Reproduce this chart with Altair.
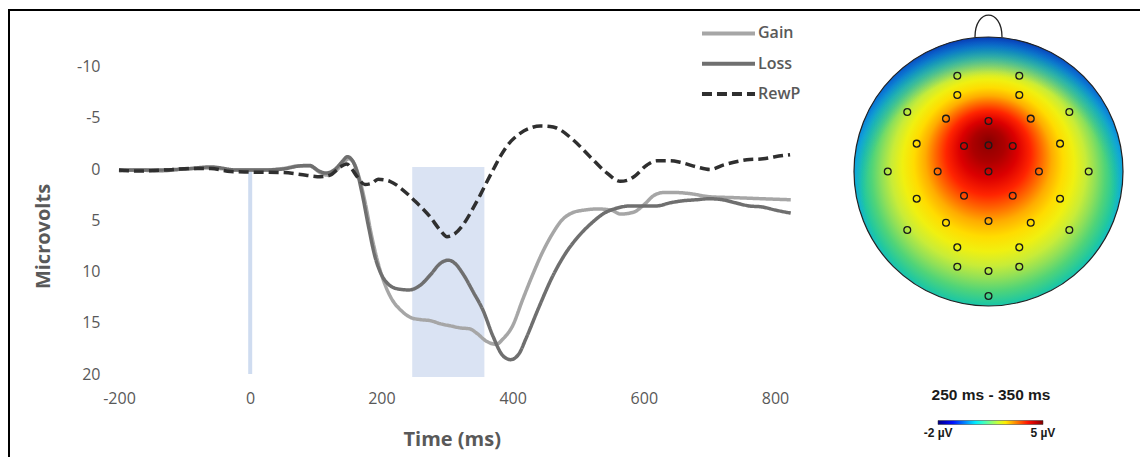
import altair as alt
import pandas as pd

# ---------------- ERP waveforms (time in ms, amplitude in microvolts) ----------------
gain_t = [-200, -170, -140, -100, -60, -20, 20, 50, 75, 90,
          108, 118, 130, 142, 150, 158, 165, 175, 185, 195,
          205, 215, 230, 245, 260, 275, 290, 305, 320, 335,
          345, 360, 375, 385, 400, 415, 430, 445, 460, 475,
          490, 510, 530, 550, 565, 585, 600, 615, 630, 650,
          670, 700, 740, 780, 824]
gain_v = [0.2, 0.1, 0.2, 0.0, -0.1, 0.1, 0.1, -0.05, -0.3, -0.3,
          0.4, 0.6, 0.2, -0.6, -1.0, -0.6, 0.6, 3.2, 6.5, 9.2,
          11.2, 12.6, 13.8, 14.5, 14.7, 14.8, 15.1, 15.3, 15.5, 15.6,
          16.0, 16.8, 17.1, 16.6, 15.3, 12.8, 10.4, 8.2, 6.4, 5.0,
          4.3, 4.0, 3.9, 4.0, 4.4, 4.2, 3.5, 2.6, 2.3, 2.3,
          2.4, 2.7, 2.8, 2.9, 3.0]

loss_t = [-200, -150, -100, -60, -20, 20, 50, 75, 90, 105,
          115, 128, 140, 148, 156, 163, 170, 180, 190, 200,
          210, 225, 242, 260, 275, 290, 302, 312, 325, 340,
          355, 370, 385, 397, 410, 420, 440, 460, 480, 500,
          520, 540, 560, 580, 600, 620, 640, 660, 680, 700,
          720, 740, 760, 780, 800, 824]
loss_v = [0.1, 0.1, 0.0, -0.2, 0.1, 0.1, 0.0, -0.3, -0.35, 0.2,
          0.4, 0.1, -0.7, -1.2, -0.8, 0.3, 2.2, 5.5, 8.5, 10.3,
          11.2, 11.7, 11.8, 11.3, 10.3, 9.2, 8.9, 9.2, 10.3, 12.0,
          13.8, 16.3, 18.2, 18.6, 18.0, 16.6, 13.5, 10.6, 8.3, 6.6,
          5.3, 4.3, 3.8, 3.6, 3.6, 3.6, 3.3, 3.1, 3.0, 2.9,
          3.0, 3.3, 3.6, 3.7, 4.0, 4.3]

rewp_t = [-200, -170, -130, -90, -60, -30, 0, 50, 85, 107,
          122, 137, 147, 155, 163, 175, 185, 195, 213, 230,
          249, 274, 290, 300, 310, 325, 340, 351, 362, 371,
          381, 391, 412, 427, 442, 457, 467, 493, 518, 544,
          564, 575, 585, 605, 620, 640, 656, 681, 701, 722,
          757, 782, 800, 823]
rewp_v = [0.1, 0.2, 0.1, -0.05, -0.05, 0.25, 0.3, 0.35, 0.6, 0.75,
          0.6, -0.2, -0.5, 0.0, 0.75, 1.5, 1.4, 1.0, 1.2, 1.9,
          3.0, 4.65, 6.0, 6.6, 6.4, 5.4, 3.8, 2.5, 1.1, 0.0,
          -1.2, -2.2, -3.5, -4.0, -4.2, -4.15, -4.0, -2.8, -1.2, 0.4,
          1.2, 1.1, 0.75, -0.4, -0.8, -0.8, -0.65, -0.2, 0.05, -0.4,
          -0.9, -1.0, -1.2, -1.4]

series_names = ["Gain", "Loss", "RewP"]
series_colors = ["#a6a6a6", "#6f6f6f", "#2f2f2f"]
series_dash = [[1, 0], [1, 0], [10, 5]]

x_ticks = [-200, 0, 200, 400, 600, 800]
y_ticks = [-10, -5, 0, 5, 10, 15, 20]

# analysis window (shaded) and stimulus onset marker
window_t = [247]
window_t2 = [357]
window_v = [-0.2]
window_v2 = [20.3]
onset_t = [0]
onset_v = [0]
onset_v2 = [20]

# ---------------- Topographic map (head radius = 1) ----------------
elec_x = [-0.232, 0.229, -0.232, 0.229,
          -0.604, -0.316, 0.0, 0.314, 0.601,
          -0.534, -0.182, 0.0, 0.18, 0.532,
          -0.749, -0.378, 0.0, 0.375, 0.745,
          -0.534, -0.182, 0.18, 0.532,
          -0.604, -0.316, 0.0, 0.314, 0.601,
          -0.232, 0.229,
          -0.232, 0.0, 0.229,
          0.0]
elec_y = [-0.712, -0.712, -0.569, -0.569,
          -0.442, -0.393, -0.375, -0.393, -0.442,
          -0.207, -0.19, -0.195, -0.19, -0.207,
          0.0, 0.0, 0.0, 0.0, 0.0,
          0.202, 0.18, 0.18, 0.202,
          0.435, 0.381, 0.368, 0.381, 0.435,
          0.564, 0.564,
          0.708, 0.74, 0.708,
          0.926]
elec_v = [1.9, 1.9, 2.8, 2.8,
          1.4, 3.6, 4.3, 3.7, 1.5,
          2.4, 4.4, 4.8, 4.5, 2.6,
          1.0, 3.2, 4.3, 3.2, 0.9,
          2.2, 3.4, 3.4, 2.2,
          1.7, 2.5, 2.8, 2.5, 1.6,
          1.8, 1.8,
          1.4, 1.6, 1.4,
          1.0]

head_x = [0.0]
head_y = [0.0]
nose_x = [0.0]
nose_y = [-1.082]

cbar_domain = [-2.01, -1.125, 0.625, 2.375, 4.125, 5.01]
cbar_colors = ["#00007f", "#0000ff", "#00ffff", "#ffff00", "#ff0000", "#7f0000"]
cbar_labels = [-2, 5]

head_stops = [(0.00, "#8a0000"), (0.10, "#ac0000"), (0.18, "#dc0000"), (0.26, "#ff2400"),
              (0.33, "#ff6c00"), (0.39, "#ffac00"), (0.46, "#ffdc00"), (0.53, "#f0f010"),
              (0.60, "#c8ec38"), (0.66, "#90e058"), (0.72, "#50d478"), (0.78, "#20c8a0"),
              (0.82, "#10b8d0"), (0.86, "#0c9ce8"), (0.90, "#0c70d8"), (0.95, "#0848c0"),
              (1.00, "#0630a8")]
# cool rim that is stronger over the frontal (upper) scalp
rim_stops = [(0.00, "rgba(20,150,230,0)"), (0.76, "rgba(20,150,230,0)"),
             (0.86, "rgba(16,130,228,0.35)"), (0.93, "rgba(10,84,200,0.6)"),
             (1.00, "rgba(8,50,172,0.85)")]

# ---------------- data frames ----------------
rows = []
for name, ts, vs in [("Gain", gain_t, gain_v), ("Loss", loss_t, loss_v), ("RewP", rewp_t, rewp_v)]:
    for t, v in zip(ts, vs):
        rows.append({"t": t, "v": v, "series": name})
erp_df = pd.DataFrame(rows)
band_df = pd.DataFrame({"t": window_t, "t2": window_t2, "v": window_v, "v2": window_v2})
onset_df = pd.DataFrame({"t": onset_t, "v": onset_v, "v2": onset_v2})
elec_df = pd.DataFrame({"hx": elec_x, "hy": elec_y, "ev": elec_v})
head_df = pd.DataFrame({"hx": head_x, "hy": head_y})
nose_df = pd.DataFrame({"hx": nose_x, "hy": nose_y})

W, H = 1131, 447
FONT = "Open Sans"
GREY = "#595959"

xs = alt.Scale(domain=[-200, 800], range=[110, 766], nice=False, zero=False)
ys = alt.Scale(domain=[-10, 20], range=[56.5, 364], nice=False, zero=False)

xax = alt.Axis(values=x_ticks, offset=380.5 - H, domain=False, ticks=False, tickSize=0, grid=False,
               labelPadding=0, labelFlush=False, labelExpr="toString(datum.value)",
               labelFont=FONT, labelFontSize=16, labelColor=GREY,
               title="Time (ms)", titleFont=FONT, titleFontSize=20, titleFontWeight="bold",
               titleColor=GREY, titleX=442.7, titleY=48.5, titleAlign="center", titleBaseline="middle")
yax = alt.Axis(values=y_ticks, offset=-95, domain=False, ticks=False, tickSize=0, grid=False,
               labelPadding=4, labelExpr="toString(datum.value)",
               labelFont=FONT, labelFontSize=16, labelColor=GREY,
               title="Microvolts", titleFont=FONT, titleFontSize=20, titleFontWeight="bold",
               titleColor=GREY, titleX=-61, titleY=226, titleAngle=270, titleAlign="center",
               titleBaseline="middle")

leg = alt.Legend(title=None, orient="none", legendX=704.5, legendY=8.4,
                 symbolType="M -2.04 0 L 2.04 0", symbolSize=676, symbolStrokeWidth=4,
                 rowPadding=7.3, padding=0,
                 labelFont=FONT, labelFontSize=16, labelFontWeight=600, labelColor=GREY,
                 labelOffset=14.5)

band = alt.Chart(band_df).mark_rect(color="#dae3f3").encode(
    x=alt.X("t:Q", scale=xs, axis=xax), x2="t2:Q",
    y=alt.Y("v:Q", scale=ys, axis=yax), y2="v2:Q")
onset = alt.Chart(onset_df).mark_rule(color="#cfdcf0", strokeWidth=4).encode(
    x=alt.X("t:Q", scale=xs, axis=xax),
    y=alt.Y("v:Q", scale=ys, axis=yax), y2="v2:Q")
lines = alt.Chart(erp_df).mark_line(strokeWidth=3.5, interpolate="monotone").encode(
    x=alt.X("t:Q", scale=xs, axis=xax),
    y=alt.Y("v:Q", scale=ys, axis=yax),
    color=alt.Color("series:N", scale=alt.Scale(domain=series_names, range=series_colors), legend=leg),
    strokeDash=alt.StrokeDash("series:N", scale=alt.Scale(domain=series_names, range=series_dash), legend=leg),
)
erp = alt.layer(band, onset, lines)

hxs = alt.Scale(domain=[-1, 1], range=[845, 1114], nice=False, zero=False)
hys = alt.Scale(domain=[-1, 1], range=[27, 296], nice=False, zero=False)

grad = {"gradient": "radial", "x1": 0.5, "y1": 0.385, "r1": 0, "x2": 0.5, "y2": 0.56, "r2": 0.603,
        "stops": [{"offset": o, "color": c} for o, c in head_stops]}
rim = {"gradient": "radial", "x1": 0.5, "y1": 0.6, "r1": 0, "x2": 0.5, "y2": 0.6, "r2": 0.6,
       "stops": [{"offset": o, "color": c} for o, c in rim_stops]}

nose_path = "M -0.614 0.5 C -0.614 -0.83 0.614 -0.83 0.614 0.5"
nose = alt.Chart(nose_df).mark_point(shape=nose_path, size=1936, filled=False, stroke="#222222",
                                     strokeWidth=1.3, opacity=1).encode(
    x=alt.X("hx:Q", scale=hxs, axis=None), y=alt.Y("hy:Q", scale=hys, axis=None))
head = alt.Chart(head_df).mark_circle(size=269 * 269, fill=grad, strokeWidth=0, opacity=1).encode(
    x=alt.X("hx:Q", scale=hxs, axis=None), y=alt.Y("hy:Q", scale=hys, axis=None))
head_rim = alt.Chart(head_df).mark_circle(size=269 * 269, fill=rim, stroke="#222222", strokeWidth=1.2,
                                          opacity=1).encode(
    x=alt.X("hx:Q", scale=hxs, axis=None), y=alt.Y("hy:Q", scale=hys, axis=None))

tleg = alt.Legend(title="250 ms - 350 ms", orient="none", legendX=923, legendY=378,
                  direction="horizontal", gradientLength=105, gradientThickness=4,
                  values=cbar_labels, labelExpr="toString(datum.value) + ' µV'",
                  titleFont="Liberation Sans", titleFontSize=15.5, titleFontWeight="bold",
                  titleColor="#1a1a1a", titleAnchor="middle", titlePadding=17,
                  labelFont="Liberation Sans", labelFontSize=12, labelFontWeight="bold",
                  labelColor="#1a1a1a", labelOffset=3,
                  gradientStrokeColor="#333333", gradientStrokeWidth=0.5, padding=0)
elecs = alt.Chart(elec_df).mark_point(shape="circle", size=46, filled=True, fillOpacity=0,
                                      stroke="#1a1a1a", strokeWidth=1.3, opacity=1).encode(
    x=alt.X("hx:Q", scale=hxs, axis=None), y=alt.Y("hy:Q", scale=hys, axis=None),
    fill=alt.Fill("ev:Q", scale=alt.Scale(domain=cbar_domain, range=cbar_colors, interpolate="rgb"),
                  legend=tleg))
topo = alt.layer(nose, head, head_rim, elecs)

chart = alt.layer(erp, topo).resolve_scale(x="independent", y="independent").properties(
    width=W, height=H, autosize="none",
    padding={"left": 1, "top": 2, "right": 0, "bottom": 0},
).configure_view(stroke="black", strokeWidth=2, strokeDash=[W, W + H, H + 4])

chart.save("out.html", embed_options={"renderer": "svg", "actions": False})
